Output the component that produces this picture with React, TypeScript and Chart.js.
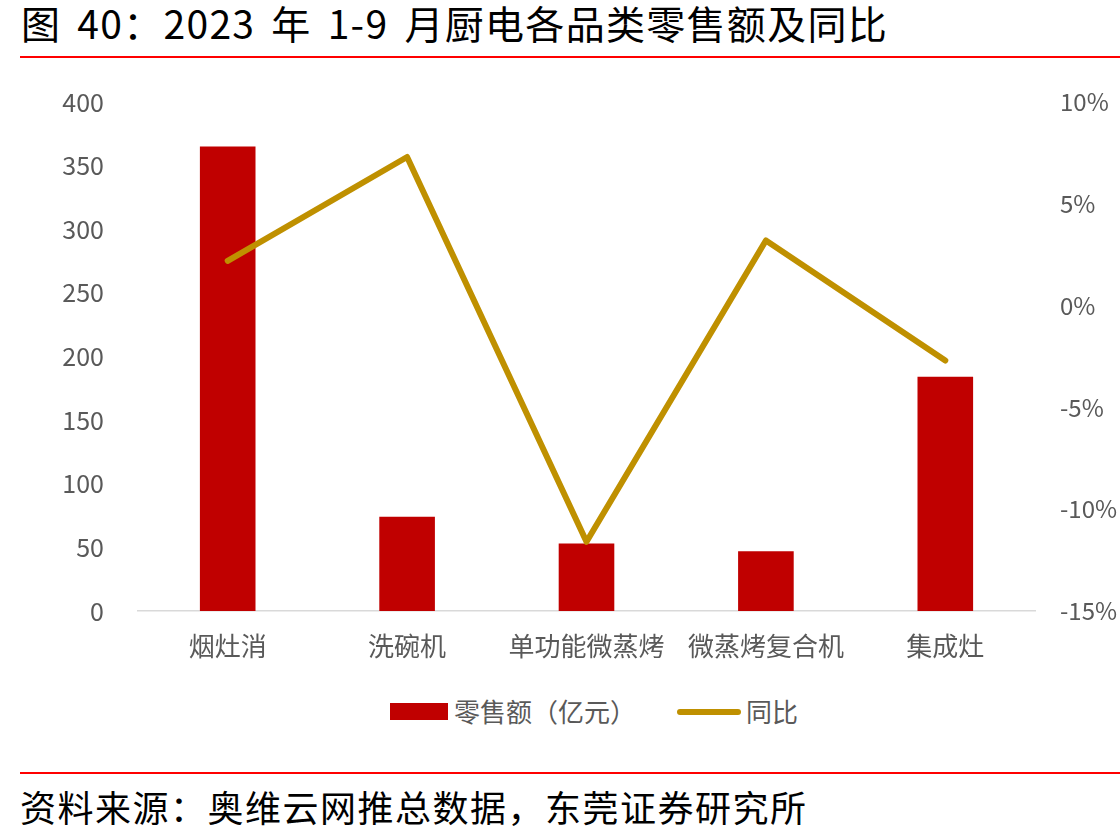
import React, { useEffect, useRef } from "react";
import Chart from "chart.js/auto";

const categories = ["烟灶消", "洗碗机", "单功能微蒸烤", "微蒸烤复合机", "集成灶"];
const retailSales = [365, 74, 53, 47, 184]; // 亿元
const yoyGrowth = [2.2, 7.3, -11.6, 3.2, -2.7]; // %

const FONT = '"Noto Sans CJK SC", "Noto Sans", sans-serif';
const GREY = "#595959";
const BAR_RED = "#C00000";
const GOLD = "#BF9000";

const RetailChart = () => {
  const chartRef = useRef<HTMLCanvasElement | null>(null);

  useEffect(() => {
    if (!chartRef.current) return;

    const myChart = new Chart(chartRef.current, {
      type: "bar",
      data: {
        labels: categories,
        datasets: [
          {
            type: "line",
            label: "同比",
            data: yoyGrowth,
            yAxisID: "y1",
            borderColor: GOLD,
            backgroundColor: GOLD,
            borderWidth: 6,
            borderCapStyle: "round",
            borderJoinStyle: "round",
            pointRadius: 0,
            tension: 0,
            order: 0,
          },
          {
            type: "bar",
            label: "零售额（亿元）",
            data: retailSales,
            yAxisID: "y",
            backgroundColor: BAR_RED,
            barPercentage: 0.31,
            categoryPercentage: 1,
            order: 1,
          },
        ],
      },
      options: {
        responsive: false,
        animation: false,
        layout: { padding: { top: 23, left: 0, right: 0, bottom: 0 } },
        plugins: {
          legend: { display: false },
          tooltip: { enabled: false },
        },
        scales: {
          x: {
            grid: { display: false },
            border: { color: "#D9D9D9", width: 1.5 },
            ticks: {
              color: GREY,
              font: { family: FONT, size: 26 },
              padding: 12,
              maxRotation: 0,
            },
            afterFit: (scale: any) => {
              scale.height = 69;
            },
          },
          y: {
            position: "left",
            min: 0,
            max: 400,
            grid: { display: false },
            border: { display: false },
            ticks: {
              stepSize: 50,
              color: GREY,
              font: { family: FONT, size: 25 },
              padding: 26,
            },
            afterFit: (scale: any) => {
              scale.width = 138;
            },
          },
          y1: {
            position: "right",
            min: -15,
            max: 10,
            grid: { display: false },
            border: { display: false },
            ticks: {
              stepSize: 5,
              color: GREY,
              font: { family: FONT, size: 24 },
              padding: 17,
              callback: (v: any) => v + "%",
            },
            afterFit: (scale: any) => {
              scale.width = 85;
            },
          },
        },
      },
    });

    return () => {
      myChart.destroy();
    };
  }, []);

  return (
    <canvas
      ref={chartRef}
      width={1120}
      height={619}
      style={{ position: "absolute", left: 0, top: 61, width: 1120, height: 619 }}
    />
  );
};

const App = () => {
  return (
    <div
      style={{
        position: "fixed",
        left: 0,
        top: 0,
        width: 1120,
        height: 840,
        background: "#fff",
        fontFamily: FONT,
        overflow: "hidden",
      }}
    >
      <div
        style={{
          position: "absolute",
          left: 21,
          top: -4,
          fontSize: 39,
          letterSpacing: 1.3,
          wordSpacing: 6,
          color: "#000",
          whiteSpace: "pre",
          lineHeight: "52px",
        }}
      >
        图 40：2023 年 1-9 月厨电各品类零售额及同比
      </div>
      <div style={{ position: "absolute", left: 20, right: 0, top: 56, height: 2, background: "#FF0000" }} />

      <RetailChart />

      {/* legend */}
      <div style={{ position: "absolute", left: 390, top: 703, width: 58, height: 17, background: BAR_RED }} />
      <div
        style={{
          position: "absolute",
          left: 454,
          top: 693,
          fontSize: 26,
          lineHeight: "36px",
          color: GREY,
          whiteSpace: "nowrap",
        }}
      >
        零售额（亿元）
      </div>
      <div
        style={{
          position: "absolute",
          left: 677,
          top: 709,
          width: 64,
          height: 6,
          borderRadius: 3,
          background: GOLD,
        }}
      />
      <div
        style={{
          position: "absolute",
          left: 746,
          top: 693,
          fontSize: 26,
          lineHeight: "36px",
          color: GREY,
          whiteSpace: "nowrap",
        }}
      >
        同比
      </div>

      <div style={{ position: "absolute", left: 20, right: 0, top: 772, height: 2, background: "#FF0000" }} />
      <div
        style={{
          position: "absolute",
          left: 20,
          top: 783,
          fontSize: 36,
          letterSpacing: 1.5,
          lineHeight: "46px",
          color: "#000",
          whiteSpace: "nowrap",
        }}
      >
        资料来源：奥维云网推总数据，东莞证券研究所
      </div>
    </div>
  );
};

export default App;
